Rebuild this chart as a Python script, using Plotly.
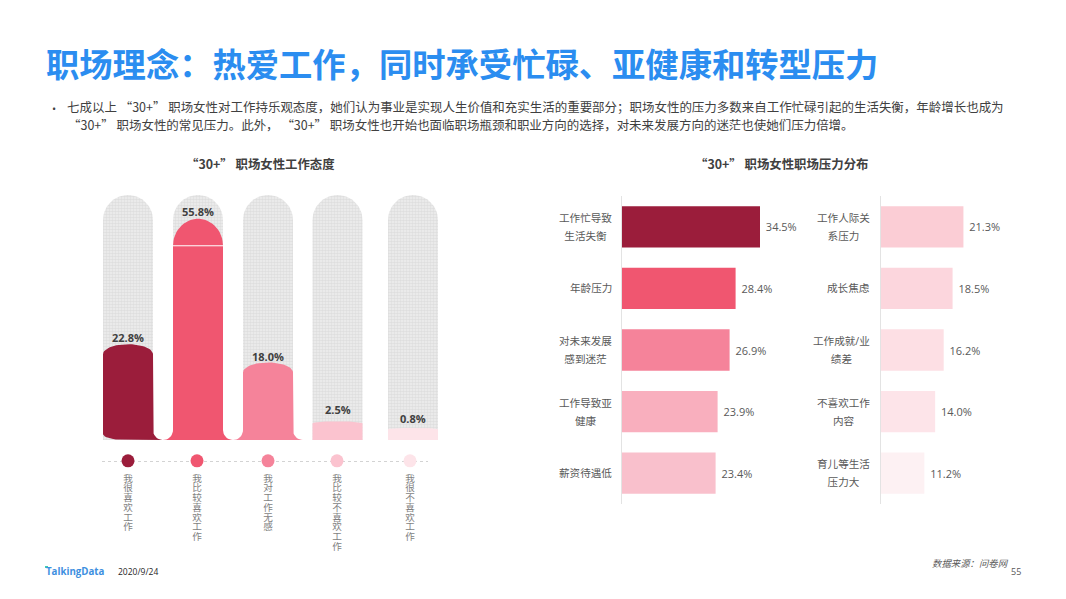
import numpy as np
import plotly.graph_objects as go

# ---------- data ----------
title_text = "职场理念：热爱工作，同时承受忙碌、亚健康和转型压力"
body_line1 = "七成以上\u00a0“30+”\u00a0职场女性对工作持乐观态度，她们认为事业是实现人生价值和充实生活的重要部分；职场女性的压力多数来自工作忙碌引起的生活失衡，年龄增长也成为"
body_line2 = "“30+”\u00a0职场女性的常见压力。此外，\u00a0“30+”\u00a0职场女性也开始也面临职场瓶颈和职业方向的选择，对未来发展方向的迷茫也使她们压力倍增。"
left_title = "“30+”\u00a0职场女性工作态度"
right_title = "“30+”\u00a0职场女性职场压力分布"

attitude_cats = ["我很喜欢工作", "我比较喜欢工作", "我对工作无感", "我比较不喜欢工作", "我很不喜欢工作"]
attitude_vals = [22.8, 55.8, 18.0, 2.5, 0.8]

pressure_a_cats = ["工作忙导致<br>生活失衡", "年龄压力", "对未来发展<br>感到迷茫", "工作导致亚<br>健康", "薪资待遇低"]
pressure_a_vals = [34.5, 28.4, 26.9, 23.9, 23.4]
pressure_b_cats = ["工作人际关<br>系压力", "成长焦虑", "工作成就/业<br>绩差", "不喜欢工作<br>内容", "育儿等生活<br>压力大"]
pressure_b_vals = [21.3, 18.5, 16.2, 14.0, 11.2]

# ---------- style / layout constants ----------
W, H = 1066, 599
CN = "Open Sans, Noto Sans CJK SC, sans-serif"
SC = "Noto Sans CJK SC, sans-serif"
attitude_colors = ["#9b1d3b", "#f05670", "#f5839a", "#fbc3cf", "#fde4e9"]
a_colors = ["#9b1d3b", "#f05670", "#f5839a", "#f9afbe", "#f9c0cc"]
b_colors = ["#fbcdd5", "#fcd6dd", "#fddfe4", "#fde4e9", "#fdf1f3"]

PX = 3.8          # pixels per percentage point in the left panel
FLOOR = -2.4      # the bars start a little below zero
Y_TOP = 66.0
Y_BOT = -8.19
bar_centers = [128, 198, 268, 337.5, 413]
dot_centers = [128, 197, 268, 337, 410]
dome_px = [10, 27, 10, 2, 1.5]
flares = [(0, 10), (10, 10), (10, 10), (0, 0), (0, 0)]
round_left = [True, False, False, False, False]
label_lift = [6.5, 7, 5.5, 12, 9]
BAR_W = 50


def px(x):
    return x / W


def py(y):
    return 1 - y / H


def bar_outline(cx, value, dome, flare, rleft):
    """Outline in axis units for a bar with a dome on top and fillets below."""
    hw = BAR_W / 2
    d = dome / PX
    t = np.linspace(np.pi, 0, 30)
    xs = list(cx + hw * np.cos(t))
    ys = list(value - d + d * np.sin(t))
    fl, fr = flare
    if fr:
        a = np.linspace(0, np.pi / 2, 10)
        xs += list(cx + hw + fr - fr * np.cos(a))
        ys += list(FLOOR + fr / PX - fr / PX * np.sin(a))
    else:
        xs += [cx + hw]
        ys += [FLOOR]
    if fl:
        a = np.linspace(np.pi / 2, 0, 10)
        xs += list(cx - hw - fl + fl * np.cos(a))
        ys += list(FLOOR + fl / PX - fl / PX * np.sin(a))
    elif rleft:
        a = np.linspace(np.pi / 2, np.pi, 12)
        xs += list(cx - hw + 22 + 22 * np.cos(a))
        ys += list(FLOOR + 6 / PX - 6 / PX * np.sin(a))
    else:
        xs += [cx - hw]
        ys += [FLOOR]
    xs.append(xs[0])
    ys.append(ys[0])
    return xs, ys


fig = go.Figure()

# track capsules
for cx in bar_centers:
    xs, ys = bar_outline(cx, Y_TOP - (195 - 180) / PX, 25, (0, 0), False)
    fig.add_trace(go.Scatter(
        x=xs, y=ys, mode="lines", fill="toself", line=dict(width=0),
        fillcolor="#e8e8e8",
        fillpattern=dict(shape=".", size=3, solidity=0.6, bgcolor="#eeeeee", fgcolor="#cdcdcd"),
        hoverinfo="skip", showlegend=False, xaxis="x", yaxis="y"))

# coloured bars
for cx, v, c, d, f, r in zip(bar_centers, attitude_vals, attitude_colors, dome_px, flares, round_left):
    xs, ys = bar_outline(cx, v, d, f, r)
    fig.add_trace(go.Scatter(
        x=xs, y=ys, mode="lines", fill="toself", line=dict(width=0), fillcolor=c,
        showlegend=False, hoverinfo="skip", xaxis="x", yaxis="y"))

# white seam below the dome of the tallest bar
i_max = int(np.argmax(attitude_vals))
seam_y = attitude_vals[i_max] - dome_px[i_max] / PX
fig.add_trace(go.Scatter(
    x=[bar_centers[i_max] - BAR_W / 2, bar_centers[i_max] + BAR_W / 2], y=[seam_y, seam_y],
    mode="lines", line=dict(color="#ffffff", width=1), showlegend=False, hoverinfo="skip",
    xaxis="x", yaxis="y"))

# dotted timeline with dots
fig.add_trace(go.Scatter(
    x=[102, 428], y=[Y_BOT, Y_BOT], mode="lines", line=dict(color="#a6a6a6", width=1, dash="dot"),
    showlegend=False, hoverinfo="skip", cliponaxis=False, xaxis="x", yaxis="y"))
fig.add_trace(go.Scatter(
    x=dot_centers, y=[Y_BOT + 0.3] * 5, mode="markers",
    marker=dict(size=13, color=attitude_colors, line=dict(width=0)),
    showlegend=False, hoverinfo="skip", cliponaxis=False, xaxis="x", yaxis="y"))

# horizontal bar panels
for cats, vals, cols, xa, ya in [
    (pressure_a_cats, pressure_a_vals, a_colors, "x2", "y2"),
    (pressure_b_cats, pressure_b_vals, b_colors, "x3", "y3"),
]:
    fig.add_trace(go.Bar(
        x=vals, y=cats, orientation="h", marker=dict(color=cols, line=dict(width=0)),
        text=[f"\u00a0{v:.1f}%" for v in vals], textposition="outside", cliponaxis=False,
        textfont=dict(family=CN, size=11, color="#595959"),
        showlegend=False, hoverinfo="skip", xaxis=xa, yaxis=ya, width=0.67))

annotations = []


def note(text, x, y, size, color="#404040", xanchor="left", yanchor="middle", family=CN, **kw):
    annotations.append(dict(
        text=text, x=px(x), y=py(y), xref="paper", yref="paper", showarrow=False,
        xanchor=xanchor, yanchor=yanchor, font=dict(family=family, size=size, color=color), **kw))


note("•", 50, 109, 11)
note(body_line1, 64.5, 107.5, 12.47, family=SC)
note(body_line2, 66, 124.5, 12.47, family=SC)
note(f"<b>{left_title}</b>", 260, 164, 12.4, xanchor="center", family=SC)
note(f"<b>{right_title}</b>", 781, 164, 12.4, xanchor="center", family=SC)
note("<b>TalkingData</b>", 44, 571, 9.7, color="#3d8fe0")
note("2020/9/24", 116, 571, 8.5, color="#262626")
note("<i>数据来源：问卷网</i>", 930, 563, 9.4, color="#595959")
note("55", 1009, 571, 9, color="#595959")

# value labels of the left panel
for cx, v, lift in zip(bar_centers, attitude_vals, label_lift):
    annotations.append(dict(
        text=f"<b>{v:.1f}%</b>", x=cx, y=v, xref="x", yref="y", showarrow=False,
        xanchor="center", yanchor="middle", yshift=lift,
        font=dict(family=CN, size=11, color="#404040")))


def wrap_lines(label, size):
    parts = label.split("<br>")
    return "<br>".join(f'<span style="font-size:{size}px">{p}</span>' for p in parts)


# category labels of the two bar panels (centred lines, wide leading)
for cats, xa, ya, edge in [(pressure_a_cats, "x2", "y2", 8), (pressure_b_cats, "x3", "y3", 9)]:
    for c in cats:
        annotations.append(dict(
            text=wrap_lines(c, 10.6), x=0, y=c, xref=xa, yref=ya, showarrow=False,
            xanchor="right", yanchor="middle", xshift=-edge, align="center",
            font=dict(family=CN, size=13.8, color="#595959")))

fig.update_layout(
    width=W, height=H, margin=dict(l=0, r=0, t=0, b=0, pad=0),
    paper_bgcolor="#ffffff", plot_bgcolor="#ffffff",
    title=dict(text=f"<b>{title_text}</b>", x=px(46), y=py(65), xanchor="left", yanchor="middle",
               xref="paper", yref="paper",
               font=dict(family=CN, size=33.3, color="#2b8df0")),
    annotations=annotations,
    shapes=[dict(type="rect", xref="paper", yref="paper", x0=px(45), x1=px(48), y0=py(568), y1=py(566),
                 fillcolor="#3fd0b0", line=dict(width=0))],
    xaxis=dict(domain=[px(90), px(450)], range=[90, 450], showgrid=False, zeroline=False, showline=False,
               tickmode="array", tickvals=dot_centers,
               ticktext=["<br>".join(f'<span style="font-size:9.6px">{ch}</span>' for ch in c) for c in attitude_cats],
               tickangle=0, ticks="", ticklabelstandoff=11,
               tickfont=dict(family=CN, size=7.5, color="#7f7f7f")),
    yaxis=dict(domain=[py(462), py(180)], range=[Y_BOT, Y_TOP], visible=False),
    xaxis2=dict(domain=[px(622), px(822)], range=[0, 50], visible=False, anchor="y2"),
    yaxis2=dict(domain=[py(504), py(196)], autorange="reversed", type="category", anchor="x2",
                showline=True, linecolor="#e3e3e3", linewidth=1, showticklabels=False, ticks="",
                showgrid=False, zeroline=False),
    xaxis3=dict(domain=[px(881), px(1035)], range=[0, 39.8], visible=False, anchor="y3"),
    yaxis3=dict(domain=[py(504), py(196)], autorange="reversed", type="category", anchor="x3",
                showline=True, linecolor="#e3e3e3", linewidth=1, showticklabels=False, ticks="",
                showgrid=False, zeroline=False),
)

fig.write_html("out.html", config=dict(displayModeBar=False),
               post_script="document.body.style.margin='0';document.body.style.overflow='hidden';")
